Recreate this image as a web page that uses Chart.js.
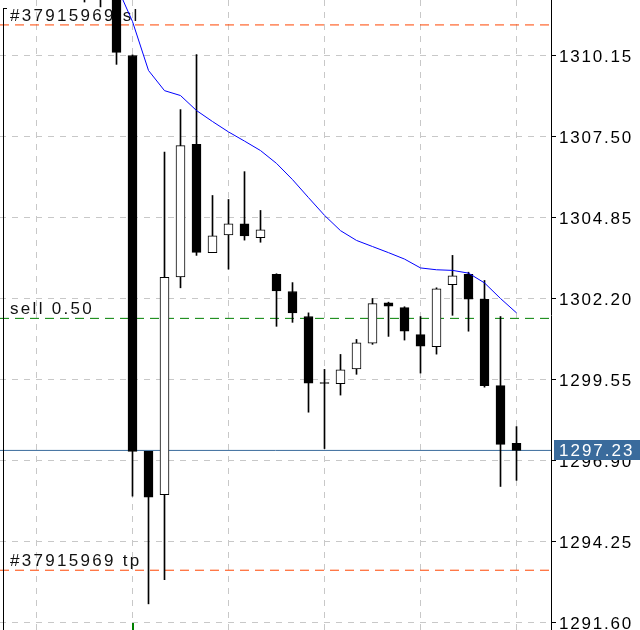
<!DOCTYPE html>
<html>
<head>
<meta charset="utf-8">
<script src="https://cdn.jsdelivr.net/npm/chart.js@4.4.1/dist/chart.umd.min.js"></script>
<style>
html,body{margin:0;padding:0;background:#ffffff;}
#wrap{width:640px;height:630px;position:relative;}
</style>
</head>
<body>
<div id="wrap"><canvas id="c"></canvas></div>
<script>
// ---- data ----
const barIndex = [-2,-1,0,1,2,3,4,5,6,7,8,9,10,11,12,13,14,15,16,17,18,19,20,21,22,23,24,25];
const opens  = [1313.00,1312.50,1312.60,1310.15,1297.20,1295.78,1302.91,1307.24,1303.70,1304.28,1304.64,1304.19,1302.99,1302.43,1301.61,1299.45,1299.41,1299.90,1300.74,1302.06,1301.90,1301.02,1300.62,1302.65,1302.99,1302.17,1299.35,1297.46];
const highs  = [1313.30,1312.90,1312.80,1310.17,1297.20,1306.99,1308.38,1310.18,1305.57,1305.44,1306.35,1305.08,1303.01,1302.72,1301.73,1299.88,1300.37,1300.86,1302.20,1302.08,1301.93,1301.61,1302.55,1303.61,1303.06,1302.79,1301.61,1298.01];
const lows   = [1311.90,1311.74,1309.86,1295.73,1292.21,1293.00,1302.55,1303.61,1303.70,1303.16,1304.11,1304.04,1301.29,1301.42,1298.48,1297.29,1299.04,1299.72,1300.70,1300.96,1300.84,1299.76,1300.38,1301.65,1301.13,1299.30,1296.05,1296.25];
const closes = [1312.40,1312.20,1310.25,1297.20,1295.70,1302.89,1307.20,1303.71,1304.25,1304.64,1304.25,1304.45,1302.45,1301.73,1299.43,1299.42,1299.87,1300.75,1302.03,1301.95,1301.13,1300.64,1302.52,1302.94,1302.18,1299.35,1297.43,1297.23];

const maIndex  = [0,1,2,3,4,5,6,7,8,9,10,11,12,13,14,15,16,17,18,19,20,21,22,23,24,25];
const maValues = [1312.44,1311.26,1309.66,1309.00,1308.84,1308.35,1307.99,1307.65,1307.35,1307.04,1306.62,1306.09,1305.50,1304.92,1304.42,1304.10,1303.90,1303.70,1303.49,1303.20,1303.14,1303.12,1303.03,1302.71,1302.20,1301.73];

const yTickLabels = ["1291.60","1294.25","1296.90","1299.55","1302.20","1304.85","1307.50","1310.15"];
const levelNames  = ["#37915969 sl","sell 0.50","#37915969 tp"];
const levelValues = [1311.15, 1301.55, 1293.31];
const bidPrice = 1297.23;
const entryBarIndex = 1;
const vGridIndex = [-5,1,7,13,19,25];

// ---- styles / layout ----
const levelColors = ["#ff4500","#008000","#ff4500"];
const X_MIN = -7.28125, X_MAX = 27.15625;
const Y_MIN = 1291.3546, Y_MAX = 1311.9657;
const GRID = "#c8c8c8";
const PRICE_BLUE = "#3a6b9c";
const FONT = "'Liberation Sans', Arial, sans-serif";

const levelDatasets = levelValues.map((v, i) => ({
  type: 'line',
  data: [{x: X_MIN, y: v}, {x: X_MAX, y: v}],
  borderColor: levelColors[i],
  borderWidth: 1,
  borderDash: [9, 6],
  pointRadius: 0,
  order: 6
}));

const decor = {
  id: 'decor',
  beforeDraw(chart) {
    chart.ctx.letterSpacing = '1.8px';
  },
  beforeDatasetsDraw(chart) {
    const ctx = chart.ctx, y = chart.scales.y, a = chart.chartArea;
    ctx.save();
    ctx.letterSpacing = '2.3px';
    ctx.font = "17px " + FONT;
    ctx.fillStyle = '#111';
    ctx.textAlign = 'left';
    ctx.textBaseline = 'alphabetic';
    levelNames.forEach((t, i) => {
      ctx.fillText(t, a.left + 10, y.getPixelForValue(levelValues[i]) - 4);
    });
    ctx.restore();
  },
  afterDatasetsDraw(chart) {
    const ctx = chart.ctx, x = chart.scales.x, a = chart.chartArea;
    ctx.save();
    // left frame mark
    ctx.fillStyle = '#000';
    ctx.fillRect(a.left + 3, 8, 1, a.bottom - 8);
    ctx.fillRect(a.left + 3, 8, 4, 1);
    // entry marker
    ctx.fillStyle = '#008000';
    const ex = Math.round(x.getPixelForValue(entryBarIndex));
    ctx.fillRect(ex - 1, a.bottom - 7, 2, 7);
    ctx.restore();
  },
  afterDraw(chart) {
    const ctx = chart.ctx, y = chart.scales.y, a = chart.chartArea;
    const py = y.getPixelForValue(bidPrice);
    ctx.save();
    ctx.fillStyle = PRICE_BLUE;
    ctx.fillRect(a.right + 3, Math.round(py) - 10, chart.width - a.right - 3, 20);
    ctx.letterSpacing = '2px';
    ctx.font = "17px " + FONT;
    ctx.fillStyle = '#ffffff';
    ctx.textAlign = 'left';
    ctx.textBaseline = 'middle';
    ctx.fillText(bidPrice.toFixed(2), a.right + 8, Math.round(py) + 1);
    ctx.restore();
  }
};

new Chart(document.getElementById('c'), {
  type: 'bar',
  data: {
    datasets: [
      ...levelDatasets,
      {
        type: 'line',
        data: [{x: X_MIN, y: bidPrice}, {x: X_MAX, y: bidPrice}],
        borderColor: PRICE_BLUE, borderWidth: 1, pointRadius: 0, order: 6
      },
      {
        type: 'bar',
        data: barIndex.map((k, i) => ({x: k, y: [lows[i], highs[i]]})),
        backgroundColor: '#000', borderWidth: 0,
        barThickness: 1, grouped: false, order: 3
      },
      {
        type: 'bar',
        data: barIndex.map((k, i) => ({x: k, y: [opens[i], closes[i]]})),
        backgroundColor: barIndex.map((k, i) => closes[i] > opens[i] ? '#ffffff' : '#000000'),
        borderColor: '#000', borderWidth: 1, borderSkipped: false,
        barThickness: 9, grouped: false, order: 2
      },
      {
        type: 'line',
        data: maIndex.map((k, i) => ({x: k, y: maValues[i]})),
        borderColor: '#0000ff', borderWidth: 1, pointRadius: 0, tension: 0, order: 1
      }
    ]
  },
  options: {
    responsive: true,
    maintainAspectRatio: false,
    animation: false,
    events: [],
    layout: {padding: 0},
    plugins: {legend: {display: false}, tooltip: {enabled: false}},
    scales: {
      x: {
        type: 'linear', min: X_MIN, max: X_MAX, offset: false,
        grid: {display: true, color: GRID, drawTicks: false, offset: false},
        border: {display: false, dash: [6, 6]},
        ticks: {display: false},
        afterBuildTicks: s => { s.ticks = vGridIndex.map(v => ({value: v})); },
        afterFit: s => { s.height = 0; s.paddingLeft = 0; s.paddingRight = 0; }
      },
      y: {
        type: 'linear', position: 'right', min: Y_MIN, max: Y_MAX, beginAtZero: false,
        grid: {color: GRID, drawTicks: true, tickLength: 5, tickColor: '#000', tickBorderDash: []},
        border: {display: true, color: '#000', width: 1, dash: [6, 6]},
        ticks: {
          autoSkip: false, padding: 3, labelOffset: 1.5,
          color: '#000', font: {family: FONT, size: 17},
          callback: v => v.toFixed(2)
        },
        afterBuildTicks: s => { s.ticks = yTickLabels.map(t => ({value: parseFloat(t)})); },
        afterFit: s => { s.width = 89; s.paddingTop = 0; s.paddingBottom = 0; }
      }
    }
  },
  plugins: [decor]
});
</script>
</body>
</html>
